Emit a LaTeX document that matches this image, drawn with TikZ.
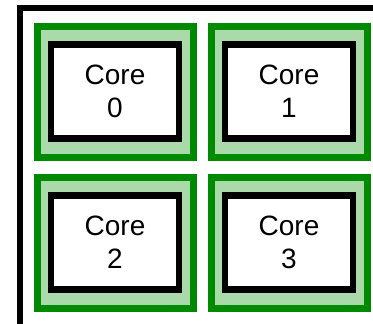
\documentclass[tikz,border=0pt]{standalone}
\usepackage{fontspec}
\setmainfont{Liberation Sans}
\usepackage{xcolor}
\usetikzlibrary{positioning}

\definecolor{tiledark}{RGB}{0,138,0}
\definecolor{tilelight}{RGB}{170,217,170}

\begin{document}
\begin{tikzpicture}[
    x=1pt, y=-1pt,
    tile/.style={rectangle, draw=tiledark, fill=tilelight, line width=7pt,
      minimum width=156pt, minimum height=131pt, inner sep=0pt},
    core/.style={rectangle, draw=black, fill=white, line width=6.5pt,
      minimum width=128pt, minimum height=94pt, inner sep=0pt, align=center,
      font=\fontsize{28}{33}\selectfont},
    frame/.style={line width=6pt}
  ]
  \useasboundingbox (0,0) rectangle (373,324);
  \clip (0,0) rectangle (373,324);

  % Chip frame (runs off the page)
  \draw[frame] (420,8) -- (19.5,8) -- (19.5,400);

  % Tiles
  \node[tile] (t0) at (115,91.5)  {};
  \node[tile] (t1) at (289,91.5)  {};
  \node[tile] (t2) at (115,242.5) {};
  \node[tile] (t3) at (289,242.5) {};

  % Cores
  \node[core] (c0) at (t0) {Core\\0};
  \node[core] (c1) at (t1) {Core\\1};
  \node[core] (c2) at (t2) {Core\\2};
  \node[core] (c3) at (t3) {Core\\3};
\end{tikzpicture}
\end{document}
